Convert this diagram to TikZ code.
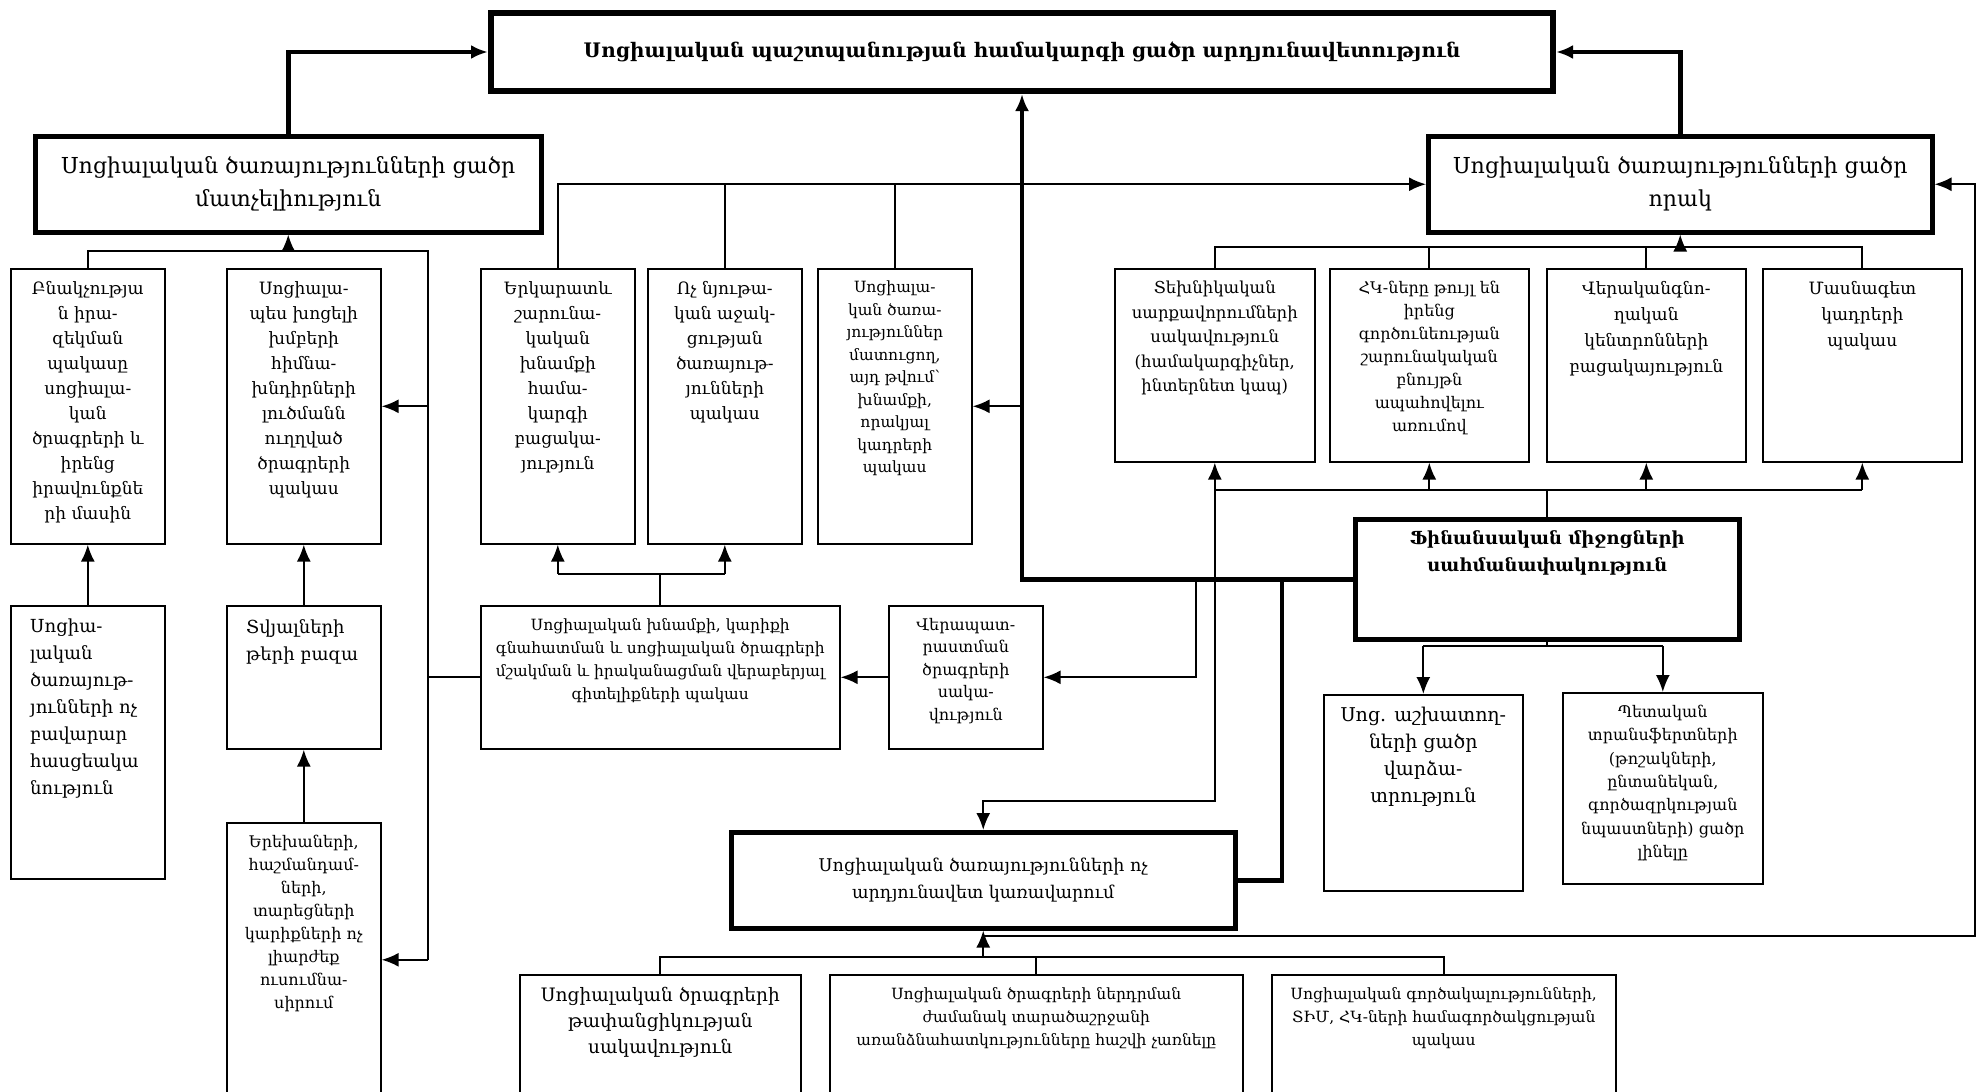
\documentclass[tikz,border=0pt]{standalone}
\usepackage{fontspec}
\setmainfont{DejaVu Serif}
\usetikzlibrary{arrows.meta,positioning}

\newcommand{\fs}[2]{\fontsize{#1}{#2}\selectfont}
% text set at the top of a box
\newcommand{\intext}[3][]{\node[inner,#1] (#2-t) at ([yshift=-13pt]#2.north) {#3};}

\tikzset{
  cell/.style 2 args={draw, line width=1.6pt, minimum width=#1, minimum height=#2,
    anchor=north west, inner sep=0pt, align=center},
  keycell/.style={line width=4.5pt},
  inner/.style={anchor=north, align=center, inner sep=0pt, font=\fs{17}{25}},
  link/.style={line width=2pt, -{Latex[length=17pt,width=14pt]}},
  plain/.style={line width=2pt},
  heavy/.style={line width=4.5pt},
}

\begin{document}
\begin{tikzpicture}[x=1pt,y=-1pt]
  \useasboundingbox (0,0) rectangle (1979,1092);
  \clip (0,0) rectangle (1979,1092);

  % main boxes
  \node[cell={1062}{78}, line width=6pt, font=\bfseries\fs{20}{28}] (top) at (488,10)
    {Սոցիալական պաշտպանության համակարգի ցածր արդյունավետություն};
  \node[cell={506}{96}, keycell, font=\fs{22}{33}] (access) at (33,134)
    {Սոցիալական ծառայությունների ցածր\\մատչելիություն};
  \node[cell={504}{96}, keycell, font=\fs{22}{33}] (quality) at (1426,134)
    {Սոցիալական ծառայությունների ցածր\\որակ};
  \node[cell={384}{120}, keycell] (fin) at (1353,517) {};
  \node[cell={504}{96}, keycell, font=\fs{17.5}{27}] (gov) at (729,830)
    {Սոցիալական ծառայությունների ոչ\\արդյունավետ կառավարում};

  % narrow boxes
  \node[cell={154}{275}] (pop) at (10,268) {};
  \node[cell={154}{275}] (vuln) at (226,268) {};
  \node[cell={154}{275}] (longt) at (480,268) {};
  \node[cell={154}{275}] (nonmat) at (647,268) {};
  \node[cell={154}{275}] (staff) at (817,268) {};
  \node[cell={200}{193}] (tech) at (1114,268) {};
  \node[cell={199}{193}] (ngo) at (1329,268) {};
  \node[cell={199}{193}] (rehab) at (1546,268) {};
  \node[cell={199}{193}] (spec) at (1762,268) {};
  \node[cell={154}{273}] (insuf) at (10,605) {};
  \node[cell={154}{143}] (data) at (226,605) {};
  \node[cell={154}{274}] (child) at (226,822) {};
  \node[cell={359}{143}] (know) at (480,605) {};
  \node[cell={154}{143}] (retrain) at (888,605) {};
  \node[cell={199}{196}] (socw) at (1323,694) {};
  \node[cell={200}{191}] (transf) at (1562,692) {};
  \node[cell={281}{150}] (b1) at (519,974) {};
  \node[cell={413}{150}] (b2) at (829,974) {};
  \node[cell={344}{150}] (b3) at (1271,974) {};

  \intext{pop}{Բնակչությա\\ն իրա-\\զեկման\\պակասը\\սոցիալա-\\կան\\ծրագրերի և\\իրենց\\իրավունքնե\\րի մասին}
  \intext{vuln}{Սոցիալա-\\պես խոցելի\\խմբերի\\հիմնա-\\խնդիրների\\լուծմանն\\ուղղված\\ծրագրերի\\պակաս}
  \intext{longt}{Երկարատև\\շարունա-\\կական\\խնամքի\\համա-\\կարգի\\բացակա-\\յություն}
  \intext{nonmat}{Ոչ նյութա-\\կան աջակ-\\ցության\\ծառայութ-\\յունների\\պակաս}
  \intext[font=\fs{15.5}{22.5}]{staff}{Սոցիալա-\\կան ծառա-\\յություններ\\մատուցող,\\այդ թվում՝\\խնամքի,\\որակյալ\\կադրերի\\պակաս}
  \intext[font=\fs{16.5}{24.5}]{tech}{Տեխնիկական\\սարքավորումների\\սակավություն\\(համակարգիչներ,\\ինտերնետ կապ)}
  \intext[font=\fs{16}{23}]{ngo}{ՀԿ-ները թույլ են\\իրենց\\գործունեության\\շարունակական\\բնույթն\\ապահովելու\\առումով}
  \intext[font=\fs{17}{26}]{rehab}{Վերականգնո-\\ղական\\կենտրոնների\\բացակայություն}
  \intext[font=\fs{17}{26}]{spec}{Մասնագետ\\կադրերի\\պակաս}
  \intext[font=\bfseries\fs{18}{27}]{fin}{Ֆինանսական միջոցների\\սահմանափակություն}
  \node[inner, anchor=north west, align=left, font=\fs{18}{27}] (insuf-t)
    at ([xshift=20pt,yshift=-14pt]insuf.north west) {Սոցիա-\\լական\\ծառայութ-\\յունների ոչ\\բավարար\\հասցեակա\\նություն};
  \node[inner, anchor=north west, align=left, font=\fs{18}{27}] (data-t)
    at ([xshift=20pt,yshift=-14pt]data.north west) {Տվյալների\\թերի բազա};
  \intext[font=\fs{16}{23}]{child}{Երեխաների,\\հաշմանդամ-\\ների,\\տարեցների\\կարիքների ոչ\\լիարժեք\\ուսումնա-\\սիրում}
  \intext[font=\fs{15.5}{23}]{know}{Սոցիալական խնամքի, կարիքի\\գնահատման և սոցիալական ծրագրերի\\մշակման և իրականացման վերաբերյալ\\գիտելիքների պակաս}
  \intext[font=\fs{16}{22.5}]{retrain}{Վերապատ-\\րաստման\\ծրագրերի\\սակա-\\վություն}
  \intext[font=\fs{19}{27}]{socw}{Սոց. աշխատող-\\ների ցածր\\վարձա-\\տրություն}
  \intext[font=\fs{16}{23.3}]{transf}{Պետական\\տրանսֆերտների\\(թոշակների,\\ընտանեկան,\\գործազրկության\\նպաստների) ցածր\\լինելը}
  \intext[font=\fs{18.5}{26}]{b1}{Սոցիալական ծրագրերի\\թափանցիկության\\սակավություն}
  \intext[font=\fs{15.5}{23}]{b2}{Սոցիալական ծրագրերի ներդրման\\ժամանակ տարածաշրջանի\\առանձնահատկությունները հաշվի չառնելը}
  \intext[font=\fs{15.5}{23}]{b3}{Սոցիալական գործակալությունների,\\ՏԻՄ, ՀԿ-ների համագործակցության\\պակաս}

  % bus lines
  \coordinate (qbus) at (0,247);
  \coordinate (fbus) at (0,490);
  \coordinate (sbus) at (0,646);
  \coordinate (kbus) at (0,574);
  \coordinate (bbus) at (0,957);
  \coordinate (lv) at (428,251);
  \coordinate (gj) at (1282,577);
  \coordinate (rj) at (1196,577);
  \coordinate (rr) at (1975,936);

  % heavy links into the top box
  \draw[link,heavy] (access.north) |- (top.west);
  \draw[link,heavy] (quality.north) |- (top.east);
  \draw[link,heavy] (fin.west) -| (top.south);
  \draw[heavy] (gov.east) -| (gj);

  % into quality
  \draw[link] (longt.north) |- (quality.west);
  \foreach \b in {nonmat,staff}
    \draw[plain] (\b.north) -- (\b.north |- quality.west);
  \draw[plain] (tech.north) |- (spec.north |- qbus) -- (spec.north);
  \foreach \b in {ngo,rehab}
    \draw[plain] (\b.north) -- (\b.north |- qbus);
  \draw[link] (quality.south |- qbus) -- (quality.south);
  \draw[link] (gov.south |- rr) -- (rr) |- (quality.east);

  % from finance
  \draw[plain] (fin.north) -- (fin.north |- fbus);
  \draw[plain] (tech.south |- fbus) -- (spec.south |- fbus);
  \foreach \b in {tech,ngo,rehab,spec}
    \draw[link] (\b.south |- fbus) -- (\b.south);
  \draw[plain] (fin.south) -- (fin.south |- sbus);
  \draw[plain] (socw.north |- sbus) -- (transf.north |- sbus);
  \foreach \b in {socw,transf}
    \draw[link] (\b.north |- sbus) -- (\b.north);
  \draw[link] (tech.south |- fbus) -- ++(0,311) -| (gov.north);
  \draw[link] (rj) |- (retrain.east);
  \draw[link] (staff.east -| top.south) -- (staff.east);

  % middle
  \draw[link] (retrain.west) -- (know.east);
  \draw[plain] (know.north) -- (know.north |- kbus);
  \draw[plain] (longt.south |- kbus) -- (nonmat.south |- kbus);
  \foreach \b in {longt,nonmat}
    \draw[link] (\b.south |- kbus) -- (\b.south);

  % left side
  \draw[plain] (know.west) -- (know.west -| lv);
  \draw[plain] (pop.north) |- (lv) -- (lv |- child.east);
  \draw[link] (access.south |- lv) -- (access.south);
  \draw[link] (vuln.east -| lv) -- (vuln.east);
  \draw[link] (child.east -| lv) -- (child.east);
  \draw[link] (insuf.north) -- (pop.south);
  \draw[link] (data.north) -- (vuln.south);
  \draw[link] (child.north) -- (data.south);

  % bottom
  \draw[link] (gov.south |- bbus) -- (gov.south);
  \draw[plain] (b1.north) |- (b3.north |- bbus) -- (b3.north);
  \draw[plain] (b2.north) -- (b2.north |- bbus);
\end{tikzpicture}
\end{document}
